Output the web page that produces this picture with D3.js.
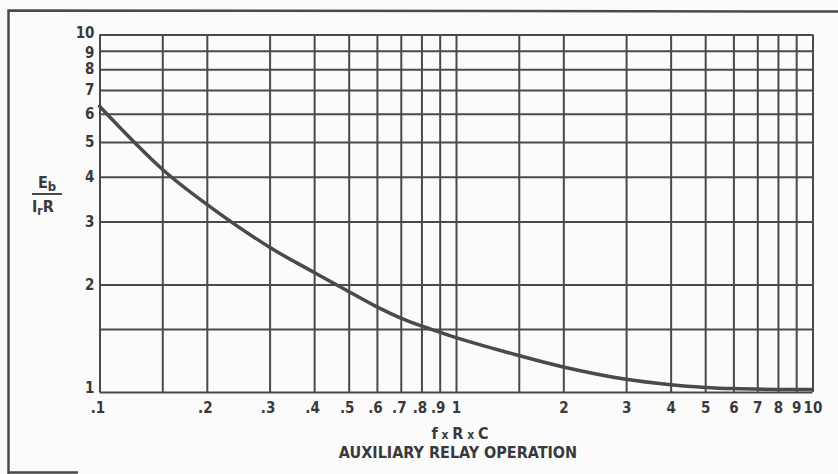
<!DOCTYPE html>
<html>
<head>
<meta charset="utf-8">
<script src="https://cdn.jsdelivr.net/npm/d3@7"></script>
<style>
  body { margin: 0; background: #fbfbfb; }
  text { font-family: "Liberation Sans Narrow", "DejaVu Sans Condensed", sans-serif; fill: #3a3a3a; }
</style>
</head>
<body>
<div id="chart"></div>
<script>
// curve (f x R x C  vs  Eb / Ir R)
let curveX = [0.1, 0.15, 0.2, 0.3, 0.4, 0.5, 0.6, 0.7, 0.8, 0.9, 1, 1.5, 2, 3, 4, 5, 6, 8, 10];
let curveY = [6.3, 4.2, 3.35, 2.54, 2.16, 1.91, 1.73, 1.61, 1.53, 1.47, 1.42, 1.265, 1.175, 1.085, 1.048, 1.03, 1.022, 1.017, 1.016];

// grid lines and tick labels
let xGrid = [0.1, 0.15, 0.2, 0.3, 0.4, 0.5, 0.6, 0.7, 0.8, 0.9, 1, 1.5, 2, 3, 4, 5, 6, 7, 8, 9, 10];
let xTicks = [0.1, 0.2, 0.3, 0.4, 0.5, 0.6, 0.7, 0.8, 0.9, 1, 2, 3, 4, 5, 6, 7, 8, 9, 10];
let xLabels = ['.1', '.2', '.3', '.4', '.5', '.6', '.7', '.8', '.9', '1', '2', '3', '4', '5', '6', '7', '8', '9', '10'];
let yGrid = [1, 1.5, 2, 3, 4, 5, 6, 7, 8, 9, 10];
let yTicks = [1, 2, 3, 4, 5, 6, 7, 8, 9, 10];

let config = { svg: {}, plot: {} };
config.svg.width = 838;
config.svg.height = 474;
config.plot.left = 99.5;
config.plot.right = 812.5;
config.plot.top = 34.5;
config.plot.bottom = 392;

let ink = '#4a4a4a';

let svg = d3.select('#chart').append('svg')
  .attr('width', config.svg.width)
  .attr('height', config.svg.height);

// outer frame (top and left edge, short stub at the bottom)
svg.append('path')
  .attr('d', 'M838,11.5 L8.5,10.5 L8.5,474 M8.5,472.5 L78,472.5')
  .attr('fill', 'none')
  .attr('stroke', ink)
  .attr('stroke-width', 2.5);

let x = d3.scaleLog().domain([0.1, 10]).range([config.plot.left, config.plot.right]);
let y = d3.scaleLog().domain([1, 10]).range([config.plot.bottom, config.plot.top]);

let plotW = config.plot.right - config.plot.left;
let plotH = config.plot.bottom - config.plot.top;

// vertical grid
svg.append('g')
  .attr('transform', 'translate(0,' + config.plot.bottom + ')')
  .call(d3.axisBottom(x).tickValues(xGrid).tickSize(-plotH).tickFormat(''))
  .call(g => g.select('.domain').remove())
  .call(g => g.selectAll('line').attr('stroke', ink).attr('stroke-width', 2));

// horizontal grid
svg.append('g')
  .attr('transform', 'translate(' + config.plot.left + ',0)')
  .call(d3.axisLeft(y).tickValues(yGrid).tickSize(-plotW).tickFormat(''))
  .call(g => g.select('.domain').remove())
  .call(g => g.selectAll('line').attr('stroke', ink).attr('stroke-width', 2));

// x tick labels
let xAxis = svg.append('g')
  .attr('transform', 'translate(0,' + config.plot.bottom + ')')
  .call(d3.axisBottom(x).tickValues(xTicks).tickSize(0).tickPadding(10)
    .tickFormat((d, i) => xLabels[i]));
xAxis.select('.domain').remove();
xAxis.selectAll('text')
  .style('font-size', '15px')
  .style('font-weight', 'bold')
  .attr('fill', '#3a3a3a')
  .attr('dx', (d, i) => xLabels[i][0] === '.' ? -2 : 0);

// y tick labels (10 and 9 pushed apart a little, 1 lifted off the corner)
let yNudge = { 1: -4, 9: 1.5, 10: -1.5 };
let yAxis = svg.append('g')
  .attr('transform', 'translate(' + config.plot.left + ',0)')
  .call(d3.axisLeft(y).tickValues(yTicks).tickSize(0).tickPadding(5)
    .tickFormat(d3.format('d')));
yAxis.select('.domain').remove();
yAxis.selectAll('text')
  .style('font-size', '15px')
  .style('font-weight', 'bold')
  .attr('fill', '#3a3a3a')
  .attr('dy', '0.32em')
  .attr('y', d => yNudge[d] || 0);

// the curve
let data = curveX.map((v, i) => ({ x: v, y: curveY[i] }));
svg.append('path')
  .datum(data)
  .attr('fill', 'none')
  .attr('stroke', ink)
  .attr('stroke-width', 3.5)
  .attr('stroke-linecap', 'round')
  .attr('d', d3.line().x(d => x(d.x)).y(d => y(d.y)).curve(d3.curveCatmullRom.alpha(0.5)));

// y axis title as a fraction
let yt = svg.append('g').attr('font-weight', 'bold');
yt.append('text').attr('x', 38).attr('y', 188).style('font-size', '16px')
  .text('E').append('tspan').attr('dy', 3).style('font-size', '13px').text('b');
yt.append('line').attr('x1', 32).attr('x2', 62).attr('y1', 194).attr('y2', 194)
  .attr('stroke', ink).attr('stroke-width', 2);
yt.append('text').attr('x', 32).attr('y', 212).style('font-size', '16px')
  .text('I').append('tspan').attr('dy', 3).style('font-size', '12px').text('r')
  .append('tspan').attr('dy', -3).style('font-size', '16px').text('R');

// x axis title and caption
let xt = svg.append('text').attr('x', 460).attr('y', 439)
  .attr('text-anchor', 'middle').style('font-weight', 'bold').style('font-size', '16px');
xt.append('tspan').text('f');
xt.append('tspan').style('font-size', '12px').text(' x ');
xt.append('tspan').text('R');
xt.append('tspan').style('font-size', '12px').text(' x ');
xt.append('tspan').text('C');

svg.append('text').attr('x', 458).attr('y', 458)
  .attr('text-anchor', 'middle')
  .style('font-size', '16px').style('font-weight', 'bold')
  .text('AUXILIARY RELAY OPERATION');
</script>
</body>
</html>
